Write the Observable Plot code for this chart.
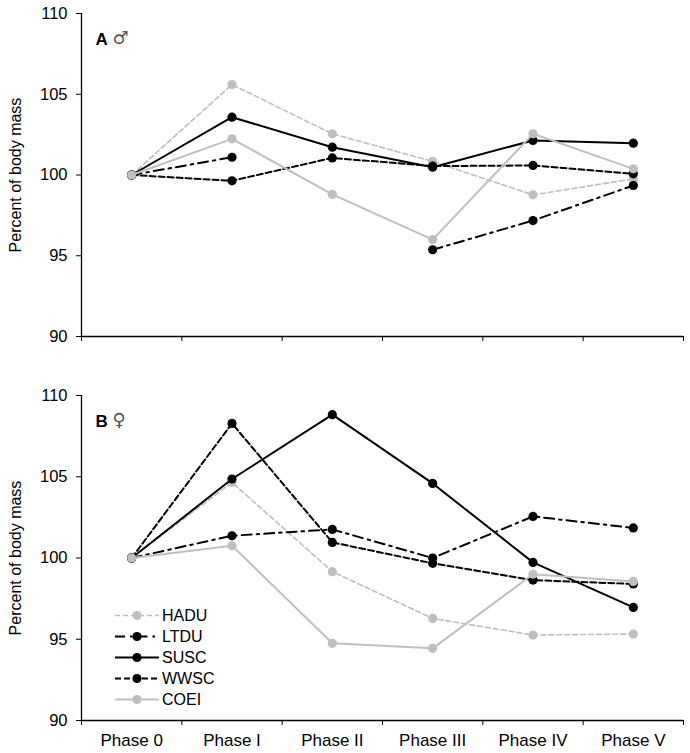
<!DOCTYPE html>
<html>
<head>
<meta charset="utf-8">
<script src="https://cdn.jsdelivr.net/npm/d3@7"></script>
<script src="https://cdn.jsdelivr.net/npm/@observablehq/plot@0.6"></script>
<style>
  html, body { margin: 0; padding: 0; background: #fff; }
  #wrap { position: relative; width: 690px; height: 753px; font-family: "Liberation Sans", Arial, sans-serif; }
  #wrap svg { display: block; }
  #legend { position: absolute; left: 0; top: 0; }
</style>
</head>
<body>
<div id="wrap"></div>
<script>
const phases = ["Phase 0", "Phase I", "Phase II", "Phase III", "Phase IV", "Phase V"];
const species = ["HADU", "LTDU", "SUSC", "WWSC", "COEI"];
const yTicks = [90, 95, 100, 105, 110];
const yLabel = "Percent of body mass";

// Panel A (males)
const maleHADU = [100, 105.6, 102.55, 100.84, 98.77, 99.76];
const maleLTDU = [100, 101.1, null, 95.37, 97.18, 99.35];
const maleSUSC = [100, 103.58, 101.72, 100.48, 102.14, 101.97];
const maleWWSC = [100, 99.64, 101.06, 100.55, 100.59, 100.07];
const maleCOEI = [100, 102.24, 98.8, 96.0, 102.55, 100.38];

// Panel B (females)
const femaleHADU = [100, 104.65, 99.16, 96.28, 95.26, 95.32];
const femaleLTDU = [100, 101.37, 101.76, 100.0, 102.56, 101.85];
const femaleSUSC = [100, 104.86, 108.82, 104.59, 99.73, 96.96];
const femaleWWSC = [100, 108.28, 100.96, 99.67, 98.64, 98.4];
const femaleCOEI = [100, 100.76, 94.75, 94.44, 99.0, 98.56];

const GRAY = "#bfbfbf";
const style = {
  HADU: {stroke: GRAY, dash: "5,3", width: 1.6},
  LTDU: {stroke: "#000", dash: "10,5,2.5,5", width: 2},
  SUSC: {stroke: "#000", dash: null, width: 2},
  WWSC: {stroke: "#000", dash: "6,3", width: 2},
  COEI: {stroke: GRAY, dash: null, width: 2}
};

const maleSeries = {HADU: maleHADU, LTDU: maleLTDU, SUSC: maleSUSC, WWSC: maleWWSC, COEI: maleCOEI};
const femaleSeries = {HADU: femaleHADU, LTDU: femaleLTDU, SUSC: femaleSUSC, WWSC: femaleWWSC, COEI: femaleCOEI};

function rowsFor(series, sp) {
  return series[sp].map((v, i) => ({species: sp, x: i + 0.5, y: v == null ? NaN : v}));
}

function panel({series, letter, symbol, height, marginTop, marginBottom, showLabels}) {
  const marks = [];
  for (const sp of species) {
    const rows = rowsFor(series, sp);
    const s = style[sp];
    marks.push(Plot.line(rows, {x: "x", y: "y", stroke: s.stroke, strokeWidth: s.width, strokeDasharray: s.dash || undefined, curve: "linear"}));
    marks.push(Plot.dot(rows.filter(d => !isNaN(d.y)), {x: "x", y: "y", r: 4.6, fill: s.stroke, stroke: "none"}));
  }
  marks.push(Plot.ruleX([0], {stroke: "#000", strokeWidth: 1.3}));
  marks.push(Plot.ruleY([90], {stroke: "#000", strokeWidth: 1.3}));
  marks.push(Plot.axisY({ticks: yTicks, tickSize: 5, tickPadding: 9, label: null, fontSize: 16.5}));
  marks.push(Plot.axisX({ticks: d3.range(phases.length + 1), tickSize: 5, tickFormat: () => "", label: null}));
  if (showLabels) {
    marks.push(Plot.axisX({ticks: phases.map((p, i) => i + 0.5), tickSize: 0, tickPadding: 13, tickFormat: v => phases[Math.floor(v)], label: null, fontSize: 17}));
  }
  marks.push(Plot.text([yLabel], {frameAnchor: "left", dx: -66, rotate: -90, textAnchor: "middle", fontSize: 16, fill: "#000"}));
  marks.push(Plot.text([letter], {frameAnchor: "top-left", dx: 14, dy: 19, textAnchor: "start", fontWeight: "bold", fontSize: 17, fill: "#000"}));
  marks.push(Plot.text([symbol], {frameAnchor: "top-left", dx: 31, dy: 18, textAnchor: "start", fontSize: 18, fill: "#555", fontFamily: "DejaVu Sans"}));
  return Plot.plot({
    width: 690,
    height,
    marginLeft: 81,
    marginRight: 7,
    marginTop,
    marginBottom,
    x: {type: "linear", domain: [0, phases.length]},
    y: {domain: [90, 110]},
    style: {fontFamily: "'Liberation Sans', Arial, sans-serif", fontSize: "16px", color: "#000", background: "#fff"},
    marks
  });
}

const wrap = document.getElementById("wrap");
wrap.appendChild(panel({series: maleSeries, letter: "A", symbol: "♂", height: 345, marginTop: 13, marginBottom: 9, showLabels: false}));
wrap.appendChild(panel({series: femaleSeries, letter: "B", symbol: "♀", height: 408, marginTop: 50, marginBottom: 33, showLabels: true}));

// Legend (inside panel B, lower left)
const lg = d3.select(wrap).append("svg").attr("id", "legend").attr("width", 690).attr("height", 753);
const legendTop = 615.5, legendStep = 21;
species.forEach((sp, i) => {
  const s = style[sp];
  const g = lg.append("g").attr("transform", `translate(0,${legendTop + i * legendStep})`);
  g.append("line").attr("x1", 115).attr("x2", 159).attr("y1", 0).attr("y2", 0)
    .attr("stroke", s.stroke).attr("stroke-width", s.width).attr("stroke-dasharray", s.dash);
  g.append("circle").attr("cx", 137).attr("cy", 0).attr("r", 4.6).attr("fill", s.stroke);
  g.append("text").attr("x", 162).attr("y", 0).attr("dy", "0.36em")
    .attr("font-family", "'Liberation Sans', Arial, sans-serif").attr("font-size", 16).attr("fill", "#000").text(sp);
});
</script>
</body>
</html>
